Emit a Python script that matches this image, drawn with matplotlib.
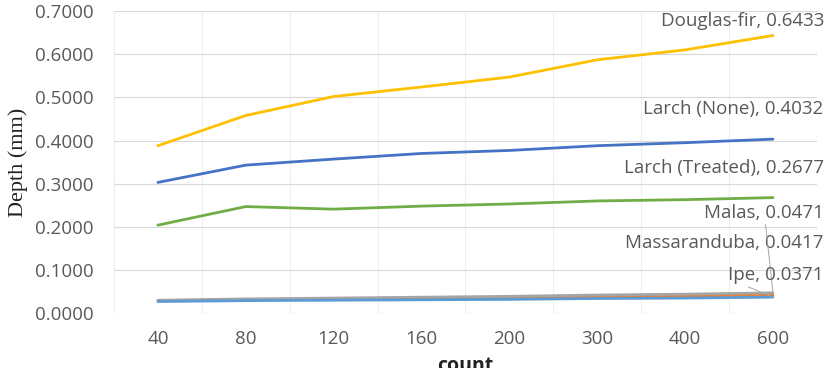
import numpy as np
import matplotlib.pyplot as plt

# data
counts = ["40", "80", "120", "160", "200", "300", "400", "600"]
larch_none = [0.303, 0.343, 0.357, 0.370, 0.377, 0.388, 0.395, 0.4032]
massaranduba = [0.029, 0.031, 0.033, 0.034, 0.036, 0.038, 0.040, 0.0417]
malas = [0.030, 0.033, 0.035, 0.037, 0.039, 0.042, 0.044, 0.0471]
douglas_fir = [0.388, 0.458, 0.502, 0.524, 0.547, 0.587, 0.610, 0.6433]
ipe = [0.027, 0.029, 0.030, 0.031, 0.032, 0.034, 0.035, 0.0371]
larch_treated = [0.204, 0.247, 0.241, 0.248, 0.253, 0.260, 0.263, 0.2677]

names = ["Larch (None)", "Massaranduba", "Malas", "Douglas-fir", "Ipe", "Larch (Treated)"]
series = [larch_none, massaranduba, malas, douglas_fir, ipe, larch_treated]
colors = ["#4472C4", "#ED7D31", "#A5A5A5", "#FFC000", "#5B9BD5", "#70AD47"]

# label offsets in pixels (dx, dy) from the last point, plus leader start
label_offsets = {
    "Douglas-fir": (51, 15),
    "Larch (None)": (50, 30),
    "Larch (Treated)": (51, 30),
    "Malas": (51, 80),
    "Massaranduba": (51, 52),
    "Ipe": (51, 22),
}
leaders = {"Malas": (0.51, 0.0), "Ipe": (0.0, 0.3)}

plt.rcParams["font.family"] = ["Open Sans", "DejaVu Sans"]

fig = plt.figure(figsize=(8.26, 3.68), dpi=100)
ax = fig.add_axes([0.138, 0.149, 0.851, 0.821])

x = np.arange(len(counts))
for name, vals, c in zip(names, series, colors):
    ax.plot(x, vals, color=c, linewidth=2.0, solid_capstyle="round")

for name, vals in zip(names, series):
    dx, dy = label_offsets[name]
    kw = {}
    if name in leaders:
        kw["arrowprops"] = dict(arrowstyle="-", color="#A6A6A6", lw=0.7,
                                shrinkA=0, shrinkB=0, relpos=leaders[name])
    ax.annotate(f"{name}, {vals[-1]:.4f}", xy=(x[-1], vals[-1]),
                xytext=(dx, dy), textcoords="offset pixels",
                ha="right", va="center", fontsize=13.5, color="#595959",
                annotation_clip=False, **kw)

ax.set_xlim(-0.5, len(counts) - 0.5)
ax.set_ylim(0, 0.7)
ax.set_yticks(np.arange(0, 0.71, 0.1))
ax.set_yticklabels([f"{v:.4f}" for v in np.arange(0, 0.71, 0.1)])
ax.set_xticks(x)
ax.set_xticklabels(counts)
ax.set_xticks(np.arange(-0.5, len(counts), 0.5), minor=True)

ax.grid(True, axis="y", color="#D9D9D9", linewidth=0.8)
ax.grid(True, axis="x", which="minor", color="#EFEFEF", linewidth=0.8)
ax.set_axisbelow(True)
for s in ax.spines.values():
    s.set_visible(False)
ax.tick_params(axis="both", which="both", length=0, colors="#595959", labelsize=13.5)
ax.tick_params(axis="y", pad=15)
ax.tick_params(axis="x", pad=12)

ax.set_ylabel("Depth (mm)", family="Liberation Serif", fontsize=16, color="#222222", labelpad=5)
ax.set_xlabel("count", fontsize=14, fontweight="bold", color="#222222", labelpad=6)

fig.savefig("out.png", dpi=100)
